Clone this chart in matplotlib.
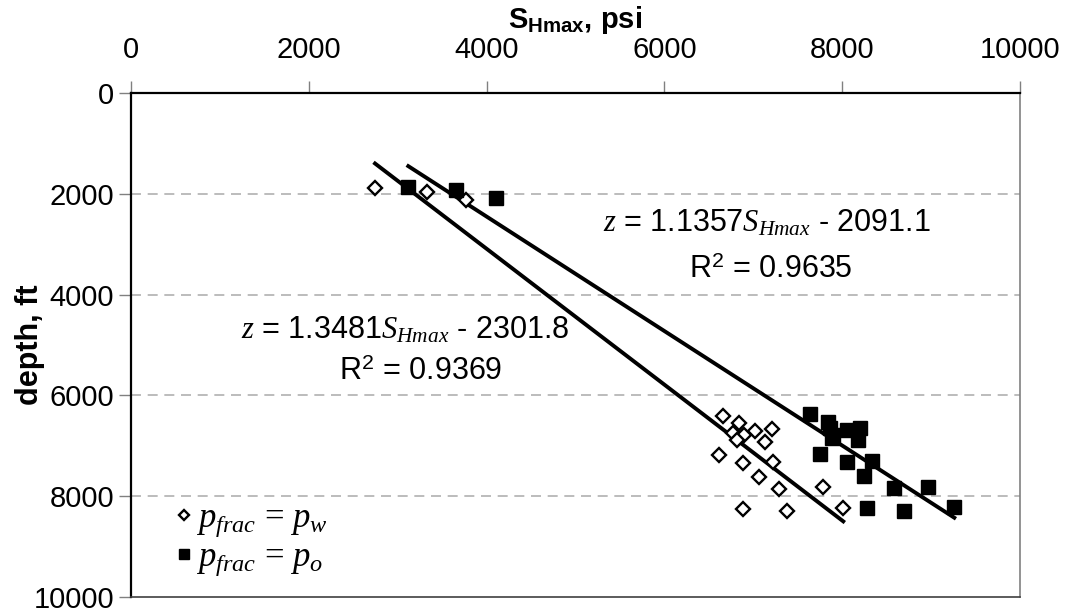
import matplotlib
matplotlib.use("Agg")
import matplotlib.pyplot as plt
import numpy as np

plt.rcParams['font.family'] = ['Liberation Sans', 'DejaVu Sans']
plt.rcParams['mathtext.fontset'] = 'custom'
plt.rcParams['mathtext.rm'] = 'Liberation Sans'
plt.rcParams['mathtext.sf'] = 'Liberation Sans'
plt.rcParams['mathtext.it'] = 'Liberation Serif:italic'
plt.rcParams['mathtext.bf'] = 'Liberation Sans:bold'

# Data: S_Hmax (psi) vs depth (ft)
shmax_w = [2745, 3333, 3768, 6663, 6843, 7019, 7207, 6775, 6895, 6813, 7132,
           6617, 6888, 7225, 7068, 7293, 7788, 6888, 7383, 8012]
depth_w = [1878, 1958, 2123, 6403, 6554, 6706, 6667, 6752, 6786, 6885, 6918,
           7183, 7348, 7315, 7626, 7864, 7824, 8260, 8287, 8228]

shmax_o = [3119, 3656, 4106, 7638, 7844, 7863, 8051, 8200, 7900, 7881, 8181,
           7750, 8051, 8339, 8245, 8583, 8969, 9261, 8275, 8698]
depth_o = [1859, 1925, 2090, 6375, 6522, 6653, 6687, 6653, 6786, 6852, 6885,
           7163, 7328, 7295, 7599, 7843, 7811, 8208, 8241, 8287]

# Trend lines (slope, intercept, R^2) as displayed
fit_w = (1.3481, -2301.8, 0.9369)
fit_o = (1.1357, -2091.1, 0.9635)

xticks = [0, 2000, 4000, 6000, 8000, 10000]
yticks = [0, 2000, 4000, 6000, 8000, 10000]

fig = plt.figure(figsize=(10.66, 6.13), dpi=100)
ax = fig.add_axes([131/1066, 16/613, 889/1066, 504/613])

# grid lines
for yv in yticks[1:-1]:
    ax.axhline(yv, color='#b0b0b0', lw=1.2, ls=(0, (6, 4)), zorder=0)

# trend lines
for xs, fit in ((shmax_w, fit_w), (shmax_o, fit_o)):
    xx = np.array([min(xs), max(xs)])
    ax.plot(xx, fit[0]*xx + fit[1], color='black', lw=2.8, zorder=2)

ax.plot(shmax_w, depth_w, ls='none', marker='D', ms=7.5, mfc='white',
        mec='black', mew=1.7, zorder=3, label=r'$p_{frac}$ = $p_w$')
ax.plot(shmax_o, depth_o, ls='none', marker='s', ms=10, mfc='black',
        mec='black', mew=1, zorder=3, label=r'$p_{frac}$ = $p_o$')

ax.set_xlim(0, 10000)
ax.set_ylim(10000, 0)
ax.set_xticks(xticks)
ax.set_yticks(yticks)
ax.xaxis.tick_top()
ax.xaxis.set_label_position('top')
ax.tick_params(axis='both', labelsize=21, length=9, width=1, color='#808080',
               direction='out')
ax.tick_params(axis='x', pad=12)
ax.tick_params(axis='y', pad=3)
ax.set_xlabel(r'S$_{\mathbf{Hmax}}$, psi', fontsize=21, fontweight='bold')
ax.xaxis.set_label_coords(0.5, 1.0 + (93 - 20) / 504)
ax.xaxis.label.set_va('center')
ax.set_ylabel('depth, ft', fontsize=22, fontweight='bold')
ax.yaxis.set_label_coords((30 - 131) / 889, 0.5)
ax.yaxis.label.set_va('center')

ax.spines['top'].set_color('black')
ax.spines['top'].set_linewidth(1.6)
ax.spines['left'].set_color('black')
ax.spines['left'].set_linewidth(1.6)
ax.spines['right'].set_color('#808080')
ax.spines['right'].set_linewidth(1.2)
ax.spines['bottom'].set_color('#404040')
ax.spines['bottom'].set_linewidth(1.2)

# equations
ax.text(0.715, 0.742, r'$z$ = %.4f$S_{Hmax}$ - %.1f' % (fit_o[0], -fit_o[1]),
        transform=ax.transAxes, ha='center', va='center', fontsize=22)
ax.text(0.72, 0.649, r'R$^2$ = %.4f' % fit_o[2],
        transform=ax.transAxes, ha='center', va='center', fontsize=22)
ax.text(0.308, 0.530, r'$z$ = %.4f$S_{Hmax}$ - %.1f' % (fit_w[0], -fit_w[1]),
        transform=ax.transAxes, ha='center', va='center', fontsize=22)
ax.text(0.326, 0.446, r'R$^2$ = %.4f' % fit_w[2],
        transform=ax.transAxes, ha='center', va='center', fontsize=22)

leg = ax.legend(loc='lower left', bbox_to_anchor=(0.03, 0.0), frameon=False,
                prop={'family': 'Liberation Serif', 'size': 25},
                handlelength=0.4, handletextpad=0.15, labelspacing=0.05,
                markerscale=0.7, borderaxespad=0.15)

fig.savefig('out.png', dpi=100)
